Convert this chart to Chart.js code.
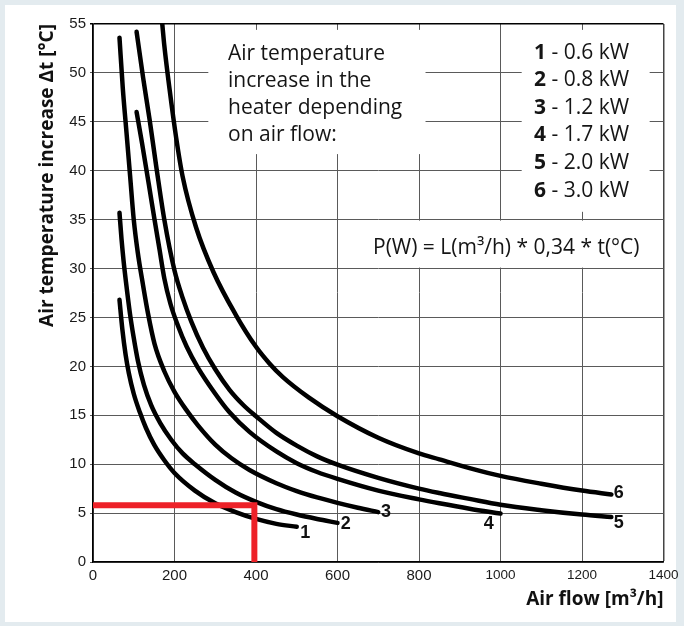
<!DOCTYPE html>
<html>
<head>
<meta charset="utf-8">
<script src="https://cdn.jsdelivr.net/npm/chart.js@4.4.1/dist/chart.umd.min.js"></script>
<style>
    html, body { margin: 0; padding: 0; background: #e3ebef; }
    #frame { position: absolute; left: 5px; top: 5px; width: 671px; height: 617px; background: #fff; }
    #wrap { position: absolute; left: 0; top: 0; width: 684px; height: 626px; }
</style>
</head>
<body>
<div id="frame"></div>
<div id="wrap"><canvas id="chart"></canvas></div>
<script>
/* ================= DATA ================= */
const flow1 = [65, 72, 80, 88, 100, 115, 130, 150, 175, 200, 250, 300, 350, 400, 450, 500];
const temp1 = [26.8, 23.8, 21.2, 19.3, 17.2, 15.3, 13.7, 12.0, 10.4, 9.1, 7.3, 6.0, 5.1, 4.4, 3.9, 3.6];

const flow2 = [65, 70, 75, 81, 91, 100, 110, 125, 143, 165, 192, 220, 250, 300, 350, 400, 450, 500, 550, 600];
const temp2 = [35.7, 33.0, 30.8, 28.6, 25.3, 22.9, 20.6, 18.1, 16.0, 14.2, 12.5, 11.1, 10.0, 8.4, 7.1, 6.15, 5.4, 4.85, 4.4, 4.0];

const flow3 = [65, 73, 82, 91, 100, 110, 122, 135, 151, 175, 200, 228, 257, 300, 340, 384, 450, 500, 550, 600, 650, 700];
const temp3 = [53.6, 48.5, 44.0, 39.5, 35.0, 31.6, 28.5, 25.4, 22.3, 19.5, 17.4, 15.6, 14.0, 12.0, 10.6, 9.4, 8.05, 7.25, 6.6, 6.05, 5.55, 5.1];

const flow4 = [107, 120, 139, 151, 163, 175, 190, 208, 230, 257, 300, 335, 384, 450, 500, 550, 600, 700, 800, 850, 924, 1000];
const temp4 = [46.0, 42.9, 38.1, 35.0, 32.0, 29.0, 26.4, 24.2, 22.0, 19.9, 17.2, 15.3, 13.3, 11.3, 10.1, 9.2, 8.5, 7.3, 6.4, 6.0, 5.45, 4.95];

const flow5 = [107, 123, 139, 155, 175, 200, 220, 241, 270, 300, 335, 370, 400, 450, 500, 550, 600, 700, 800, 850, 924, 1000, 1100, 1200, 1272];
const temp5 = [54.2, 49.5, 45.2, 40.5, 35.0, 29.8, 27.0, 24.6, 21.9, 19.7, 17.6, 16.0, 14.9, 13.2, 11.9, 10.8, 9.95, 8.6, 7.5, 7.05, 6.45, 5.85, 5.3, 4.85, 4.6];

const flow6 = [170, 175, 188, 204, 220, 253, 296, 350, 400, 433, 466, 530, 600, 700, 800, 850, 924, 1000, 1100, 1200, 1272];
const temp6 = [55.0, 52.8, 48.3, 43.4, 39.4, 34.2, 29.6, 25.3, 22.0, 20.3, 18.9, 16.8, 14.9, 12.7, 11.1, 10.5, 9.6, 8.8, 8.0, 7.3, 6.9];

// red reading example
const markFlow = [0, 396, 396];
const markTemp = [5.8, 5.8, 0];

// legend of heaters
const heaterIds = ["1", "2", "3", "4", "5", "6"];
const heaterPowers = ["0.6 kW", "0.8 kW", "1.2 kW", "1.7 kW", "2.0 kW", "3.0 kW"];

// curve number labels: where they sit (flow, temp)
const labelFlow = [521, 620, 719, 971, 1290, 1290];
const labelTemp = [3.0, 3.9, 5.1, 3.9, 4.0, 7.0];

const descLines = ["Air temperature", "increase in the", "heater depending", "on air flow:"];
const formulaText = "P(W) = L(m\u00B3/h) * 0,34 * t(\u00B0C)";

/* ================= LAYOUT ================= */
// white patches hiding the grid behind the texts: [flowFrom, flowTo, tempFrom, tempTo]
const BLANKS = [
    [283, 816, 41.7, 54.4],
    [1052, 1366, 35.8, 54.4],
    [642, 1370, 30.1, 34.9]
];

function toPoints(xs, ys) {
    return xs.map((x, i) => ({ x: x, y: ys[i] }));
}

const curves = [[flow1, temp1], [flow2, temp2], [flow3, temp3], [flow4, temp4], [flow5, temp5], [flow6, temp6]];

const datasets = [{
    data: toPoints(markFlow, markTemp),
    borderColor: "#ed2128",
    borderWidth: 6,
    tension: 0,
    borderJoinStyle: "miter",
    borderCapStyle: "butt",
    pointRadius: 0,
    order: -1
}];
curves.forEach(c => {
    datasets.push({
        data: toPoints(c[0], c[1]),
        borderColor: "#000",
        borderWidth: 4.5,
        cubicInterpolationMode: "monotone",
        borderCapStyle: "round",
        pointRadius: 0
    });
});

/* ================= TEXT PLUGIN ================= */
const notesPlugin = {
    id: "notes",
    beforeDatasetsDraw(chart) {
        const { ctx, scales: { x, y } } = chart;
        ctx.save();
        ctx.fillStyle = "#fff";
        BLANKS.forEach(b => {
            const l = x.getPixelForValue(b[0]), r = x.getPixelForValue(b[1]);
            const t = y.getPixelForValue(b[3]), btm = y.getPixelForValue(b[2]);
            ctx.fillRect(l, t, r - l, btm - t);
        });

        ctx.fillStyle = "#151515";
        ctx.textBaseline = "alphabetic";
        ctx.textAlign = "left";
        ctx.font = '21px "Open Sans"';
        descLines.forEach((s, i) => ctx.fillText(s, 228, 59.5 + i * 27));

        heaterIds.forEach((id, i) => {
            const yy = 58.5 + i * 27.6;
            ctx.font = 'bold 21px "Open Sans"';
            ctx.fillText(id, 534, yy);
            const w = ctx.measureText(id).width;
            ctx.font = '21px "Open Sans"';
            ctx.fillText(" - " + heaterPowers[i], 534 + w, yy);
        });

        ctx.font = '21px "Open Sans"';
        ctx.fillText(formulaText, 373, 253.5);
        ctx.restore();
    },
    afterDatasetsDraw(chart) {
        const { ctx, scales: { x, y } } = chart;
        ctx.save();
        ctx.fillStyle = "#111";
        ctx.font = 'bold 18px "Liberation Sans", Arial';
        ctx.textAlign = "center";
        ctx.textBaseline = "middle";
        heaterIds.forEach((id, i) => {
            ctx.fillText(id, x.getPixelForValue(labelFlow[i]), y.getPixelForValue(labelTemp[i]));
        });
        ctx.restore();
    }
};

/* ================= CHART ================= */
new Chart(document.getElementById("chart"), {
    type: "line",
    data: { datasets: datasets },
    options: {
        responsive: true,
        maintainAspectRatio: false,
        animation: false,
        layout: { padding: { top: 24, right: 20.5, left: 0, bottom: 0 } },
        plugins: { legend: { display: false }, tooltip: { enabled: false } },
        scales: {
            x: {
                type: "linear",
                min: 0,
                max: 1400,
                afterFit: s => { s.height = 64; },
                ticks: {
                    stepSize: 200,
                    padding: 5,
                    color: "#1a1a1a",
                    callback: v => String(v),
                    font: c => ({
                        family: '"Liberation Sans", Arial',
                        size: c.tick && c.tick.value >= 1000 ? 13.5 : 15
                    })
                },
                grid: {
                    drawTicks: false,
                    color: c => c.tick && c.tick.value === 1400 ? "#444" : "#5a5a5a",
                    lineWidth: c => c.tick && c.tick.value === 1400 ? 1.5 : 1
                },
                border: { color: "#000", width: 1.5 },
                title: {
                    display: true,
                    text: "Air flow [m\u00B3/h]",
                    align: "end",
                    color: "#111",
                    padding: { top: 0, bottom: 15 },
                    font: { family: '"Open Sans"', size: 19, weight: "bold" }
                }
            },
            y: {
                type: "linear",
                min: 0,
                max: 55,
                afterFit: s => { s.width = 93; },
                ticks: {
                    stepSize: 5,
                    padding: 4,
                    color: "#1a1a1a",
                    callback: v => String(v),
                    font: { family: '"Liberation Sans", Arial', size: 15 }
                },
                grid: {
                    tickLength: 3,
                    color: c => c.tick && c.tick.value === 55 ? "#000" : "#5a5a5a",
                    lineWidth: c => c.tick && c.tick.value === 55 ? 1.5 : 1
                },
                border: { color: "#000", width: 1.5 },
                title: {
                    display: true,
                    text: "Air temperature increase \u0394t [\u00B0C]",
                    align: "end",
                    color: "#111",
                    padding: { top: 36, bottom: 0 },
                    font: { family: '"Open Sans"', size: 19, weight: "bold" }
                }
            }
        }
    },
    plugins: [notesPlugin]
});
</script>
</body>
</html>
